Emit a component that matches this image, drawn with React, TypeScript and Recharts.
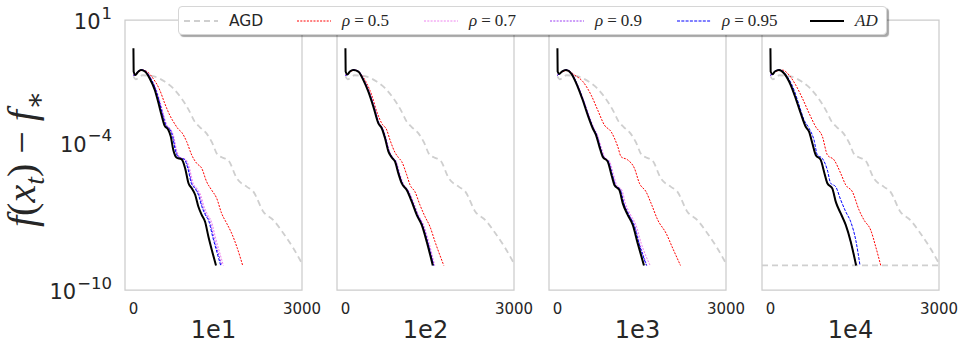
import React from 'react';
import { LineChart, Line, XAxis, YAxis, ReferenceArea, ReferenceLine } from 'recharts';

type Pt = [number, number];

// x = iteration, y = log10(f(x_t) - f_*)
const AGD: Pt[] = [[0,-1.3],[40,-1.42],[90,-1.36],[160,-1.25],[270,-1.27],[380,-1.31],[556,-1.51],[705,-1.78],[853,-2.19],[1000,-2.73],[1090,-3.14],[1180,-3.36],[1300,-3.62],[1392,-3.96],[1500,-4.5],[1580,-4.6],[1690,-4.72],[1840,-5.45],[2015,-5.79],[2134,-5.99],[2312,-6.81],[2490,-7.15],[2668,-7.69],[2846,-8.3],[3000,-8.92]];

// panel 1e1
const AD_1E1: Pt[] = [[0,-0.15],[4,-1.1],[34,-1.24],[80,-1.12],[135,-1.04],[205,-1.1],[290,-1.38],[380,-1.85],[440,-2.33],[500,-2.87],[555,-3.3],[615,-3.45],[665,-3.75],[710,-4.3],[765,-4.6],[860,-4.68],[920,-5.04],[980,-5.65],[1040,-5.86],[1100,-6.13],[1155,-6.6],[1215,-6.94],[1275,-7.22],[1335,-7.83],[1395,-8.37],[1470,-9.0]];
const R095_1E1: Pt[] = [[0,-1.25],[34,-1.22],[80,-1.1],[145,-1.03],[220,-1.1],[305,-1.38],[398,-1.85],[460,-2.33],[522,-2.87],[580,-3.3],[645,-3.45],[697,-3.75],[745,-4.3],[805,-4.6],[905,-4.68],[968,-5.04],[1030,-5.65],[1095,-5.86],[1158,-6.13],[1217,-6.6],[1280,-6.94],[1345,-7.22],[1410,-7.83],[1475,-8.37],[1553,-9.0]];
const R09_1E1: Pt[] = [[0,-1.25],[34,-1.22],[80,-1.1],[145,-1.03],[222,-1.1],[308,-1.38],[402,-1.85],[466,-2.33],[528,-2.87],[587,-3.3],[652,-3.45],[705,-3.75],[753,-4.3],[814,-4.6],[915,-4.68],[979,-5.04],[1042,-5.65],[1108,-5.86],[1172,-6.13],[1232,-6.6],[1296,-6.94],[1362,-7.22],[1428,-7.83],[1494,-8.37],[1572,-9.0]];
const R07_1E1: Pt[] = [[0,-1.25],[34,-1.22],[80,-1.1],[148,-1.03],[226,-1.1],[312,-1.38],[408,-1.85],[474,-2.33],[538,-2.87],[598,-3.3],[664,-3.45],[718,-3.75],[768,-4.3],[830,-4.6],[932,-4.68],[998,-5.04],[1062,-5.65],[1130,-5.86],[1195,-6.13],[1257,-6.6],[1322,-6.94],[1390,-7.22],[1456,-7.83],[1522,-8.37],[1600,-9.0]];
const R05_1E1: Pt[] = [[0,-1.25],[60,-1.16],[166,-1.04],[240,-1.1],[350,-1.38],[468,-1.85],[556,-2.39],[645,-2.87],[740,-3.25],[800,-3.45],[860,-3.58],[948,-3.96],[1037,-4.5],[1126,-4.84],[1215,-5.04],[1303,-5.59],[1392,-5.93],[1481,-6.26],[1570,-6.88],[1659,-7.28],[1748,-7.69],[1849,-8.3],[1944,-9.0]];

// panel 1e2
const AD_1E2: Pt[] = [[0,-0.15],[4,-1.1],[34,-1.22],[80,-1.1],[141,-1.04],[230,-1.1],[319,-1.45],[408,-1.92],[497,-2.53],[586,-3.21],[646,-3.41],[705,-3.82],[764,-4.35],[824,-4.6],[883,-4.77],[942,-5.25],[1001,-5.65],[1091,-5.93],[1180,-6.4],[1269,-6.94],[1358,-7.35],[1447,-8.03],[1555,-9.0]];
const R095_1E2: Pt[] = [[0,-1.25],[34,-1.22],[80,-1.1],[145,-1.03],[236,-1.1],[326,-1.45],[416,-1.92],[505,-2.53],[594,-3.21],[654,-3.41],[713,-3.82],[773,-4.35],[833,-4.6],[892,-4.77],[951,-5.25],[1011,-5.65],[1101,-5.93],[1190,-6.4],[1280,-6.94],[1370,-7.35],[1459,-8.03],[1568,-9.0]];
const R09_1E2: Pt[] = [[0,-1.25],[34,-1.22],[80,-1.1],[146,-1.03],[238,-1.1],[328,-1.45],[418,-1.92],[508,-2.53],[597,-3.21],[657,-3.41],[717,-3.82],[777,-4.35],[837,-4.6],[896,-4.77],[956,-5.25],[1016,-5.65],[1106,-5.93],[1196,-6.4],[1286,-6.94],[1376,-7.35],[1466,-8.03],[1575,-9.0]];
const R07_1E2: Pt[] = [[0,-1.25],[34,-1.22],[80,-1.1],[148,-1.03],[241,-1.1],[332,-1.45],[423,-1.92],[513,-2.53],[603,-3.21],[664,-3.41],[724,-3.82],[785,-4.35],[846,-4.6],[906,-4.77],[967,-5.25],[1027,-5.65],[1118,-5.93],[1209,-6.4],[1300,-6.94],[1391,-7.35],[1482,-8.03],[1588,-9.0]];
const R05_1E2: Pt[] = [[0,-1.25],[60,-1.14],[171,-1.04],[260,-1.17],[379,-1.58],[468,-2.06],[557,-2.73],[646,-3.21],[735,-3.48],[794,-3.89],[883,-4.4],[942,-4.6],[1002,-4.77],[1091,-5.31],[1150,-5.72],[1238,-6.0],[1327,-6.54],[1416,-7.01],[1505,-7.42],[1594,-8.03],[1750,-9.0]];

// panel 1e3
const AD_1E3: Pt[] = [[0,-0.15],[4,-1.1],[30,-1.2],[80,-1.1],[155,-1.04],[244,-1.17],[361,-1.72],[450,-2.26],[539,-2.87],[628,-3.41],[687,-3.69],[747,-4.16],[806,-4.57],[895,-4.77],[955,-5.25],[1014,-5.72],[1103,-5.93],[1163,-6.47],[1251,-6.94],[1341,-7.35],[1429,-8.1],[1540,-9.0]];
const R095_1E3: Pt[] = [[0,-1.25],[30,-1.2],[80,-1.1],[157,-1.03],[250,-1.17],[368,-1.72],[458,-2.26],[548,-2.87],[638,-3.41],[698,-3.69],[758,-4.16],[818,-4.57],[908,-4.77],[969,-5.25],[1029,-5.72],[1119,-5.93],[1180,-6.47],[1270,-6.94],[1361,-7.35],[1451,-8.1],[1584,-9.0]];
const R09_1E3: Pt[] = [[0,-1.25],[30,-1.2],[80,-1.1],[157,-1.03],[251,-1.17],[370,-1.72],[460,-2.26],[550,-2.87],[641,-3.41],[701,-3.69],[762,-4.16],[822,-4.57],[913,-4.77],[974,-5.25],[1035,-5.72],[1126,-5.93],[1187,-6.47],[1278,-6.94],[1370,-7.35],[1461,-8.1],[1590,-9.0]];
const R07_1E3: Pt[] = [[0,-1.25],[30,-1.2],[80,-1.1],[158,-1.03],[254,-1.17],[375,-1.72],[467,-2.26],[560,-2.87],[652,-3.41],[714,-3.69],[776,-4.16],[838,-4.57],[930,-4.77],[993,-5.25],[1055,-5.72],[1148,-5.93],[1211,-6.47],[1304,-6.94],[1398,-7.35],[1492,-8.1],[1650,-9.0]];
const R05_1E3: Pt[] = [[0,-1.25],[60,-1.14],[185,-1.06],[303,-1.24],[453,-1.51],[600,-2.06],[717,-2.67],[836,-3.28],[955,-3.55],[1074,-4.16],[1133,-4.57],[1251,-4.7],[1370,-5.04],[1459,-5.65],[1578,-6.0],[1667,-6.47],[1786,-7.15],[1934,-7.69],[2052,-8.3],[2190,-9.0]];

// panel 1e4
const AD_1E4: Pt[] = [[0,-0.15],[4,-1.1],[34,-1.21],[80,-1.1],[153,-1.04],[242,-1.17],[361,-1.65],[450,-2.19],[539,-2.8],[628,-3.35],[687,-3.55],[746,-4.02],[806,-4.5],[895,-4.7],[954,-5.18],[1013,-5.65],[1101,-5.86],[1162,-6.4],[1251,-6.88],[1340,-7.35],[1429,-8.03],[1525,-9.0]];
const R095_1E4: Pt[] = [[0,-1.25],[34,-1.2],[80,-1.08],[160,-1.03],[301,-1.31],[420,-1.85],[509,-2.46],[598,-3.07],[687,-3.41],[776,-3.89],[835,-4.5],[924,-4.64],[1013,-5.11],[1072,-5.65],[1161,-5.79],[1251,-6.33],[1340,-6.81],[1429,-7.22],[1518,-7.96],[1594,-9.0]];
const R09_1E4: Pt[] = [[0,-1.25],[34,-1.21],[80,-1.1],[153,-1.04],[242,-1.17],[361,-1.65],[450,-2.19],[539,-2.8],[628,-3.35],[687,-3.55],[746,-4.02],[806,-4.5],[895,-4.7],[954,-5.18],[1013,-5.65],[1101,-5.86],[1162,-6.4],[1251,-6.88],[1340,-7.35],[1429,-8.03],[1527,-9.0]];
const R07_1E4: Pt[] = [[0,-1.25],[34,-1.21],[80,-1.1],[153,-1.04],[242,-1.17],[361,-1.65],[450,-2.19],[539,-2.8],[628,-3.35],[687,-3.55],[746,-4.02],[806,-4.5],[895,-4.7],[954,-5.18],[1013,-5.65],[1101,-5.86],[1162,-6.4],[1251,-6.88],[1340,-7.35],[1429,-8.03],[1528,-9.0]];
const R05_1E4: Pt[] = [[0,-1.25],[60,-1.14],[212,-1.04],[331,-1.24],[450,-1.65],[569,-2.19],[688,-2.8],[806,-3.35],[925,-3.75],[1014,-4.5],[1132,-4.7],[1251,-5.25],[1340,-5.72],[1459,-6.0],[1577,-6.74],[1666,-7.15],[1785,-7.56],[1874,-8.24],[1963,-9.0]];

const PANEL_LABELS = ['1e1', '1e2', '1e3', '1e4'];
const X_TICKS = [0, 3000];
const Y_TICKS = [-10, -4, 1];
const THRESHOLD = -9; // horizontal line in last panel

const SERIES = [
  { key: 'agd', name: 'AGD', color: '#cfcfcf', width: 1.8, dash: '6 4', math: false },
  { key: 'r05', name: '0.5', color: '#ff0000', width: 1, dash: '2 1.3', math: true },
  { key: 'r07', name: '0.7', color: '#ee82ee', width: 1, dash: '2 1.3', math: true },
  { key: 'r09', name: '0.9', color: '#9a3cf2', width: 1, dash: '2 1.3', math: true },
  { key: 'r095', name: '0.95', color: '#0000ff', width: 1, dash: '3 1.3', math: true },
  { key: 'ad', name: 'AD', color: '#000000', width: 2, dash: undefined, math: false },
];
// legend item offsets inside the legend box
const LEGEND_X = [6, 119, 246, 372, 499, 632];

const PANELS: Record<string, Pt[]>[] = [
  { agd: AGD, r05: R05_1E1, r07: R07_1E1, r09: R09_1E1, r095: R095_1E1, ad: AD_1E1 },
  { agd: AGD, r05: R05_1E2, r07: R07_1E2, r09: R09_1E2, r095: R095_1E2, ad: AD_1E2 },
  { agd: AGD, r05: R05_1E3, r07: R07_1E3, r09: R09_1E3, r095: R095_1E3, ad: AD_1E3 },
  { agd: AGD, r05: R05_1E4, r07: R07_1E4, r09: R09_1E4, r095: R095_1E4, ad: AD_1E4 },
];

const PANEL_LEFT = [125, 337, 549, 762];
const PLOT_W = 177;
const PLOT_H = 270;
const PLOT_TOP = 20;
const Y_AXIS_W = 120;
const PAD = 24;
const TXT = '#262626';
const SANS = '"DejaVu Sans", sans-serif';
const SERIF = '"Liberation Serif", "DejaVu Serif", serif';

const toRows = (pts: Pt[]) => pts.map(([x, y]) => ({ x, y }));

const YTick = (props: any) => {
  const { x, y, payload } = props;
  const v = payload.value;
  const exp = v < 0 ? '\u2212' + Math.abs(v) : String(v);
  return (
    <text x={x} y={y} textAnchor="end" fill={TXT} fontFamily={SANS} fontSize={21}>
      <tspan dy="0.42em">10</tspan>
      <tspan dx={1} dy="-0.62em" fontSize={16.5}>{exp}</tspan>
    </text>
  );
};

const Panel = ({ idx }: { idx: number }) => {
  const first = idx === 0;
  const data = PANELS[idx];
  const marginLeft = first ? 0 : PAD;
  const left = first ? PANEL_LEFT[0] - Y_AXIS_W : PANEL_LEFT[idx] - PAD;
  const width = (first ? Y_AXIS_W : PAD) + PLOT_W + PAD;
  return (
    <div style={{ position: 'absolute', left, top: 0 }}>
      <LineChart width={width} height={PLOT_TOP + PLOT_H + 30} margin={{ top: PLOT_TOP, right: PAD, left: marginLeft, bottom: 0 }}>
        <XAxis
          type="number"
          dataKey="x"
          domain={[-150, 3000]}
          ticks={X_TICKS}
          interval={0}
          allowDataOverflow
          axisLine={false}
          tickLine={false}
          tickMargin={7}
          height={30}
          tick={{ fill: TXT, fontSize: 15, fontFamily: SANS }}
        />
        <YAxis
          type="number"
          dataKey="y"
          domain={[-10, 1]}
          ticks={Y_TICKS}
          interval={0}
          allowDataOverflow
          hide={!first}
          width={Y_AXIS_W}
          axisLine={false}
          tickLine={false}
          tickMargin={7}
          tick={<YTick />}
        />
        <ReferenceArea x1={-150} x2={3000} y1={-10} y2={1} fill="none" stroke="#cccccc" strokeWidth={1.25} />
        {idx === 3 && (
          <ReferenceLine y={THRESHOLD} stroke="#cfcfcf" strokeWidth={1.8} strokeDasharray="6 4" />
        )}
        {SERIES.map((s) => (
          <Line
            key={s.key}
            data={toRows(data[s.key])}
            dataKey="y"
            type="monotoneX"
            stroke={s.color}
            strokeWidth={s.width}
            strokeDasharray={s.dash}
            dot={false}
            isAnimationActive={false}
          />
        ))}
      </LineChart>
      <div
        style={{
          position: 'absolute',
          left: (first ? Y_AXIS_W : PAD) + PLOT_W / 2,
          top: 318,
          transform: 'translateX(-50%)',
          fontFamily: SANS,
          fontSize: 24,
          lineHeight: '24px',
          color: TXT,
          whiteSpace: 'nowrap',
        }}
      >
        {PANEL_LABELS[idx]}
      </div>
    </div>
  );
};

const LegendBox = () => (
  <div
    style={{
      position: 'absolute',
      left: 178,
      top: 6,
      width: 709,
      height: 29,
      boxSizing: 'border-box',
      background: '#fff',
      border: '1px solid #d6d6d6',
      borderRadius: 4,
      boxShadow: '2px 2px 1px rgba(0,0,0,0.35)',
      zIndex: 10,
    }}
  >
    {SERIES.map((s, i) => (
      <div
        key={s.key}
        style={{ position: 'absolute', left: LEGEND_X[i] - 1, top: 0, height: 27, display: 'flex', alignItems: 'center' }}
      >
        <svg width={34} height={10} style={{ marginRight: 11 }}>
          <line x1={0} x2={34} y1={5} y2={5} stroke={s.color} strokeWidth={s.width} strokeDasharray={s.dash} />
        </svg>
        {s.math ? (
          <span style={{ fontFamily: SERIF, fontSize: 17, color: TXT, whiteSpace: 'nowrap' }}>
            <i>ρ</i>
            <span style={{ margin: '0 4px' }}>=</span>
            {s.name}
          </span>
        ) : s.key === 'ad' ? (
          <span style={{ fontFamily: SERIF, fontSize: 17, fontStyle: 'italic', color: TXT }}>{s.name}</span>
        ) : (
          <span style={{ fontFamily: SANS, fontSize: 15.5, color: TXT }}>{s.name}</span>
        )}
      </div>
    ))}
  </div>
);

export default function App() {
  return (
    <div style={{ position: 'absolute', left: 0, top: 0, width: 965, height: 349, background: '#fff', overflow: 'hidden' }}>
      {PANEL_LABELS.map((_, i) => (
        <Panel key={i} idx={i} />
      ))}
      <div
        style={{
          position: 'absolute',
          left: 25,
          top: 159,
          transform: 'translate(-50%, -50%) rotate(-90deg)',
          fontFamily: SERIF,
          fontSize: 40,
          color: TXT,
          whiteSpace: 'nowrap',
          lineHeight: 1,
        }}
      >
        <i>f</i>(<i>x</i>
        <sub style={{ fontSize: '0.7em' }}><i>t</i></sub>)
        <span style={{ margin: '0 0.25em' }}>−</span>
        <i>f</i>
        <sub style={{ fontSize: '0.7em' }}>∗</sub>
      </div>
      <LegendBox />
    </div>
  );
}
